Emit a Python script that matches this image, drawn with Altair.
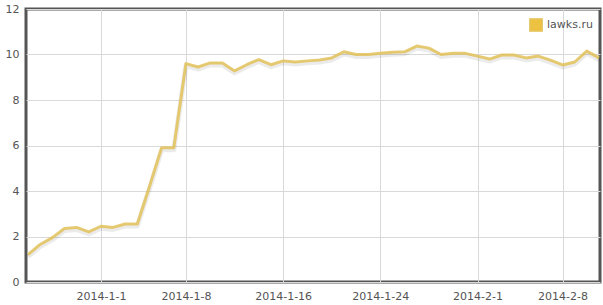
import altair as alt
import pandas as pd

dates = pd.date_range("2013-12-26", "2014-02-11", freq="D").strftime("%Y-%m-%d").tolist()
values = [1.2, 1.65, 1.95, 2.35, 2.4, 2.2, 2.45, 2.4, 2.55, 2.55,
          4.2, 5.9, 5.9, 9.6, 9.45, 9.63, 9.63, 9.28, 9.55, 9.78,
          9.55, 9.72, 9.67, 9.72, 9.76, 9.85, 10.12, 10.0, 10.0, 10.05,
          10.1, 10.12, 10.37, 10.28, 10.0, 10.05, 10.05, 9.93, 9.8, 9.98,
          9.98, 9.85, 9.93, 9.75, 9.54, 9.67, 10.15, 9.85]
series = ["lawks.ru"] * len(dates)
tick_dates = ["2014-01-01", "2014-01-08", "2014-01-16", "2014-01-24", "2014-02-01", "2014-02-08"]
y_ticks = [0, 2, 4, 6, 8, 10, 12]

df = pd.DataFrame({"date": dates, "value": values, "site": series})

FONT = "DejaVu Sans"
TXT = "#545454"

x_scale = alt.Scale(
    type="utc",
    domain=[alt.DateTime(year=2013, month=12, date=25, hours=20, utc=True),
            alt.DateTime(year=2014, month=2, date=11, hours=2, utc=True)],
    nice=False,
)
tick_vals = [alt.DateTime(year=int(d[:4]), month=int(d[5:7]), date=int(d[8:]), utc=True) for d in tick_dates]

x_enc = alt.X("date:T", scale=x_scale, title=None,
              axis=alt.Axis(values=tick_vals, format="%Y-%-m-%-d", grid=True,
                            gridColor="#d9d9d9", gridWidth=1, domain=False, ticks=False,
                            labelPadding=8, labelFont=FONT, labelFontSize=11,
                            labelColor=TXT, labelAngle=0))
y_enc = alt.Y("value:Q", scale=alt.Scale(domain=[0, 12], nice=False), title=None,
              axis=alt.Axis(values=y_ticks, grid=True, gridColor="#d9d9d9", gridWidth=1,
                            domain=False, ticks=False, labelPadding=7, labelFont=FONT,
                            labelFontSize=11, labelColor=TXT))

shadow = alt.Chart(df).mark_line(color="black", opacity=0.08, strokeWidth=5, yOffset=2,
                                 strokeJoin="round").encode(x=x_enc, y=y_enc)

line = alt.Chart(df).mark_line(strokeWidth=3, strokeJoin="round", opacity=0.85).encode(
    x=x_enc, y=y_enc,
    color=alt.Color("site:N", scale=alt.Scale(range=["#e3c25a"]),
                    legend=alt.Legend(title=None, orient="none", legendX=503, legendY=9,
                                      symbolType="square", symbolSize=150,
                                      symbolFillColor="#edc240", symbolStrokeColor="#c8c8c8",
                                      symbolStrokeWidth=1.5, symbolOpacity=1,
                                      labelFont=FONT, labelFontSize=11, labelColor=TXT,
                                      labelOffset=4, padding=0)),
)

chart = alt.layer(shadow, line).properties(
    width=574, height=273,
    background="white",
    autosize=alt.AutoSizeParams(type="none"),
    padding={"left": 26, "top": 9, "right": 3, "bottom": 23},
).configure_view(stroke="#555555", strokeWidth=3)

chart.save("out.html", embed_options={"renderer": "svg", "actions": False})
